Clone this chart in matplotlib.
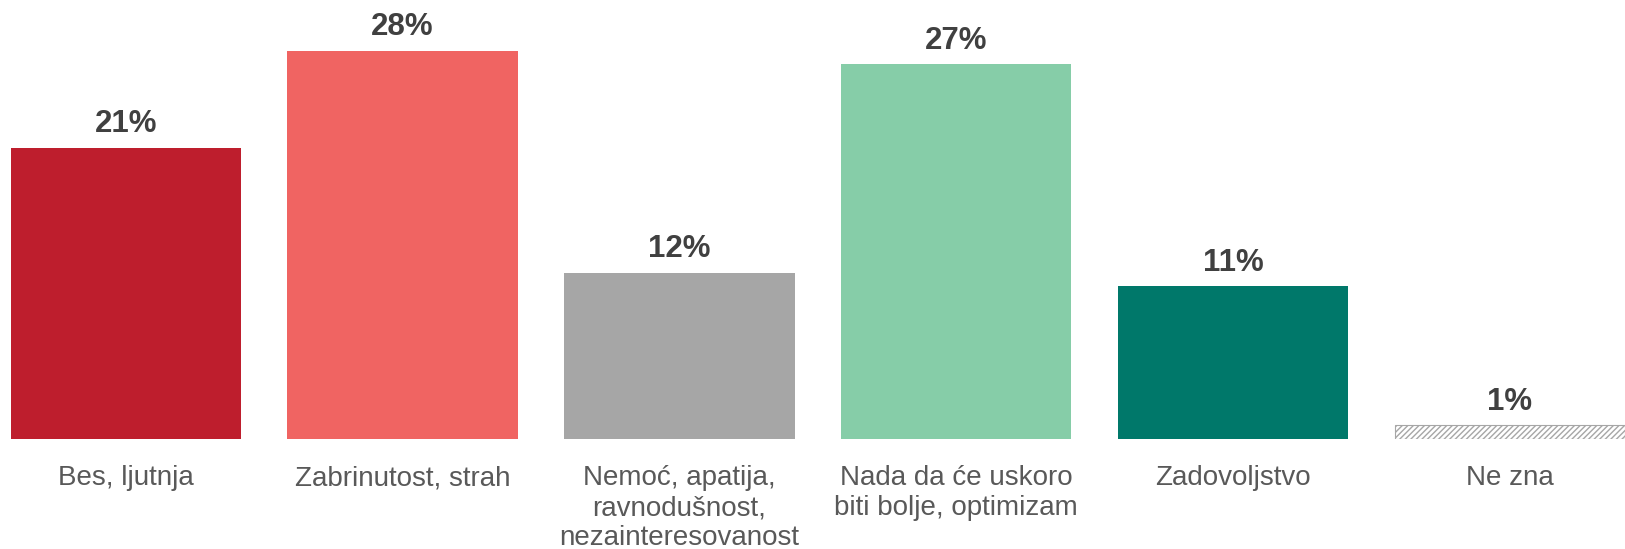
import matplotlib.pyplot as plt

plt.rcParams['font.family'] = ['Liberation Sans', 'DejaVu Sans']
plt.rcParams['hatch.linewidth'] = 1.0

categories = ['Bes, ljutnja', 'Zabrinutost, strah',
              'Nemoć, apatija,\nravnodušnost,\nnezainteresovanost',
              'Nada da će uskoro\nbiti bolje, optimizam',
              'Zadovoljstvo', 'Ne zna']
values = [21, 28, 12, 27, 11, 1]
colors = ['#BE1E2D', '#F06462', '#A6A6A6', '#86CDA8', '#00786A', 'white']

fig = plt.figure(figsize=(16.25, 5.49), dpi=100)
ax = fig.add_axes([0, 0.2004, 1, 0.7996])

x = list(range(len(values)))
bars = ax.bar(x, values, width=0.832, color=colors, edgecolor='none')

# "don't know" bar gets a light hatch
bars[-1].set_hatch('//////')
bars[-1].set_edgecolor('#A6A6A6')
bars[-1].set_linewidth(0.8)

for xi, v in zip(x, values):
    ax.annotate('%d%%' % v, (xi, v), xytext=(0, 6), textcoords='offset points',
                ha='center', va='bottom', fontsize=22.5, fontweight='bold',
                color='#404040')

for xi, label in zip(x, categories):
    ax.annotate(label, (xi, 0), xytext=(0, -19), textcoords='offset points',
                ha='center', va='top', fontsize=20, color='#595959',
                linespacing=1.2, annotation_clip=False)

ax.set_xlim(-0.454, 5.416)
ax.set_ylim(0, 31.65)
ax.axis('off')

plt.savefig('out.png', dpi=100)
plt.close(fig)
